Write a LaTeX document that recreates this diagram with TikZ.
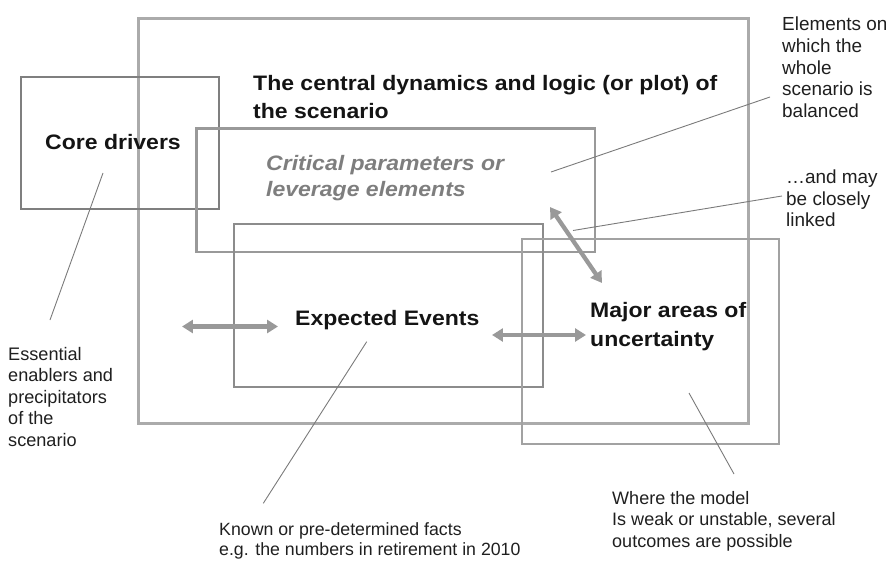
\documentclass[tikz,border=0pt]{standalone}
\usepackage{fontspec}
\setmainfont{Liberation Sans}
\newfontfamily\wideface{Liberation Sans}[FakeStretch=1.1]
\usetikzlibrary{arrows.meta}

\definecolor{frameA}{HTML}{ABABAB}
\definecolor{frameB}{HTML}{999999}
\definecolor{frameC}{HTML}{7F7F7F}
\definecolor{frameD}{HTML}{8C8C8C}
\definecolor{frameE}{HTML}{A2A2A2}
\definecolor{leader}{HTML}{7A7A7A}
\definecolor{linkgray}{HTML}{999999}
\definecolor{softtext}{HTML}{7E7E7E}

\tikzset{
  heading/.style={font=\wideface\bfseries\fontsize{21}{28.3}\selectfont,
    anchor=north west, inner sep=0pt, align=left, text=black!92},
  note/.style={font=\fontsize{18}{21.7}\selectfont,
    anchor=north west, inner sep=0pt, align=left, text=black!88},
  leaderline/.style={draw=leader, line width=0.9pt},
  twoway/.style={draw=linkgray, line width=4.3pt,
    {Triangle[length=11pt,width=13pt]}-{Triangle[length=11pt,width=13pt]}},
}

\begin{document}
\begin{tikzpicture}[x=1bp,y=-1bp]
\useasboundingbox (0,0) rectangle (886,564);

% frames
\draw[frameA, line width=2.7pt] (138.5,18.7) rectangle (748.3,423.3);
\draw[frameC, line width=1.7pt] (20.7,77.3) rectangle (219.3,209);
\draw[frameB, line width=2.7pt] (196.7,128.3) rectangle (595,252);
\draw[frameD, line width=1.7pt] (234.3,224.3) rectangle (543,386.7);
\draw[frameE, line width=1.7pt] (521.7,239.2) rectangle (779,444.3);

% headings
\node[heading] (plot) at (253,75.2)
  {The central dynamics and logic (or plot) of\\the scenario};
\node[heading] (core) at (45,134) {Core drivers};
\node[heading, font=\wideface\bfseries\itshape\fontsize{21}{25.5}\selectfont, text=softtext]
  (critical) at (266,155.5) {Critical parameters or\\leverage elements};
\node[heading] (expected) at (295,310) {Expected Events};
\node[heading, font=\wideface\bfseries\fontsize{21}{29}\selectfont]
  (major) at (590,302) {Major areas of\\uncertainty};

% side notes
\node[note, font=\fontsize{19}{21.7}\selectfont] (balanced) at (782,17)
  {Elements on\\which the\\whole\\scenario is\\balanced};
\node[note, font=\fontsize{19}{21.7}\selectfont] (linked) at (786,169.7)
  {\dots and may\\be closely\\linked};
\node[note, font=\fontsize{18.2}{21.5}\selectfont] (enablers) at (8,347)
  {Essential\\enablers and\\precipitators\\of the\\scenario};
\node[note, font=\fontsize{17.8}{20.5}\selectfont] (facts) at (219,522)
  {Known or pre-determined facts\\e.g. the numbers in retirement in 2010};
\node[note, font=\fontsize{18.1}{21.8}\selectfont] (model) at (612,491)
  {Where the model\\Is weak or unstable, several\\outcomes are possible};

% leader line end points
\coordinate (coreIn) at (103,173);
\coordinate (coreOut) at (50,320);
\coordinate (critIn) at (551,172);
\coordinate (critOut) at (770,97);
\coordinate (linkIn) at (573,230.5);
\coordinate (linkOut) at (782,196);
\coordinate (expIn) at (366.7,341.7);
\coordinate (expOut) at (263.3,503.3);
\coordinate (majIn) at (689,393);
\coordinate (majOut) at (734,474);

\draw[leaderline] (coreIn) -- (coreOut);
\draw[leaderline] (critIn) -- (critOut);
\draw[leaderline] (linkIn) -- (linkOut);
\draw[leaderline] (expIn) -- (expOut);
\draw[leaderline] (majIn) -- (majOut);

% two-way links
\coordinate (leftA) at (182,326.5);
\coordinate (leftB) at (278,326.5);
\coordinate (midA) at (492,335);
\coordinate (midB) at (586,335);
\coordinate (diagA) at (550,207);
\coordinate (diagB) at (602,283);
\draw[twoway] (leftA) -- (leftB);
\draw[twoway] (midA) -- (midB);
\draw[twoway] (diagA) -- (diagB);
\end{tikzpicture}
\end{document}
